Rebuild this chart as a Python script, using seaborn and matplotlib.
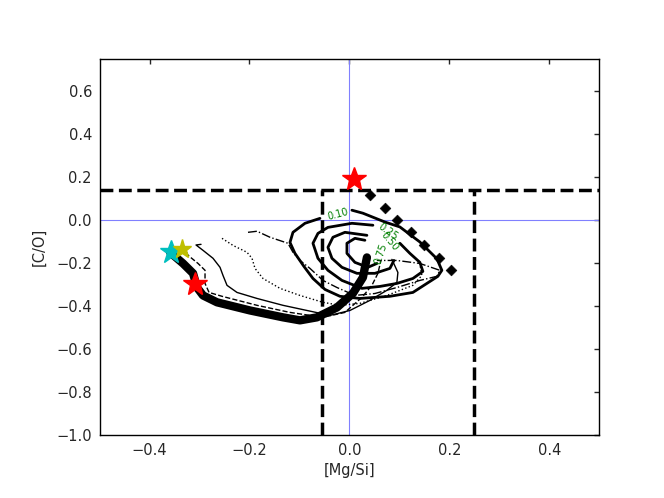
import matplotlib
matplotlib.use("Agg")
import matplotlib.pyplot as plt
import seaborn as sns
import pandas as pd

# contour levels (density of the sample)
c10_x = [0.005, 0.027, 0.071, 0.101, 0.141, 0.175, 0.185, 0.177, 0.155, 0.127, 0.081, 0.021,
         -0.019, -0.049, -0.073, -0.091, -0.109, -0.119, -0.113, -0.089, -0.059]
c10_y = [0.047, 0.033, -0.008, -0.031, -0.101, -0.179, -0.233, -0.261, -0.294, -0.336, -0.354, -0.364,
         -0.354, -0.322, -0.271, -0.215, -0.154, -0.103, -0.056, -0.014, 0.009]
c25_x = [0.101, 0.121, 0.141, 0.147, 0.127, 0.095, 0.061, 0.025, -0.015, -0.043, -0.063, -0.073,
         -0.063, -0.043, 0.005, 0.047]
c25_y = [-0.107, -0.154, -0.196, -0.238, -0.271, -0.294, -0.308, -0.317, -0.280, -0.233, -0.177, -0.107,
         -0.061, -0.033, -0.014, -0.023]
c50_x = [0.035, -0.009, -0.033, -0.043, -0.035, -0.015, 0.015, 0.051, 0.081, 0.089]
c50_y = [-0.070, -0.056, -0.079, -0.126, -0.177, -0.219, -0.247, -0.247, -0.224, -0.187]
c75_x = [0.031, 0.011, -0.005, -0.005, 0.011, 0.037, 0.055]
c75_y = [-0.093, -0.084, -0.107, -0.154, -0.196, -0.219, -0.201]
level_labels = ["0.10", "0.25", "0.50", "0.75"]
label_x = [-0.023, 0.078, 0.080, 0.062]
label_y = [0.028, -0.055, -0.098, -0.155]
label_rot = [15, -35, -50, 72]

# model tracks
thick_x = [-0.359, -0.333, -0.313, -0.305, -0.293, -0.265, -0.199, -0.133, -0.099, -0.065, -0.025,
           0.007, 0.027, 0.035]
thick_y = [-0.149, -0.201, -0.247, -0.313, -0.350, -0.382, -0.420, -0.452, -0.466, -0.452, -0.406,
           -0.340, -0.266, -0.173]
solid_x = [-0.297, -0.307, -0.293, -0.273, -0.259, -0.253, -0.245, -0.225, -0.185, -0.133, -0.085,
           -0.039, 0.001, 0.041, 0.075, 0.095, 0.097, 0.085]
solid_y = [-0.112, -0.115, -0.140, -0.177, -0.219, -0.257, -0.303, -0.336, -0.364, -0.396, -0.420,
           -0.443, -0.420, -0.373, -0.326, -0.289, -0.243, -0.182]
dashed_x = [-0.333, -0.323, -0.303, -0.289, -0.289, -0.281, -0.255, -0.185, -0.119, -0.053, -0.009,
            0.025, 0.045, 0.057, 0.063]
dashed_y = [-0.117, -0.163, -0.201, -0.233, -0.294, -0.336, -0.354, -0.396, -0.429, -0.452, -0.429,
            -0.359, -0.303, -0.247, -0.187]
dotted_x = [-0.255, -0.233, -0.205, -0.195, -0.189, -0.173, -0.139, -0.099, -0.053, -0.019, 0.021,
            0.075, 0.127, 0.145, 0.141]
dotted_y = [-0.084, -0.117, -0.149, -0.177, -0.224, -0.271, -0.317, -0.350, -0.382, -0.396, -0.387,
            -0.350, -0.303, -0.257, -0.205]
dashdot_x = [-0.203, -0.185, -0.159, -0.123, -0.113, -0.099, -0.079, -0.053, -0.025, 0.011, 0.051,
             0.095, 0.141, 0.175, 0.181, 0.141, 0.095, 0.055]
dashdot_y = [-0.056, -0.051, -0.079, -0.107, -0.149, -0.187, -0.224, -0.280, -0.313, -0.350, -0.341,
             -0.313, -0.280, -0.261, -0.233, -0.201, -0.187, -0.187]

# diamonds
diam_x = [0.041, 0.071, 0.096, 0.124, 0.150, 0.179, 0.203]
diam_y = [0.117, 0.057, 0.0, -0.056, -0.113, -0.174, -0.233]

# stars
star_x = [0.010, -0.309, -0.357, -0.335]
star_y = [0.190, -0.295, -0.148, -0.132]
star_col = ["red", "red", "c", "y"]
star_size = [18, 18, 17, 14]

# cut lines
co_cut = 0.14
mgsi_cuts = [-0.054, 0.25]

sns.set_style("white")
plt.rcParams["font.family"] = ["DejaVu Sans"]

fig, ax = plt.subplots(figsize=(6.64, 4.98), dpi=100)
fig.subplots_adjust(left=0.15, right=0.9025, top=0.881, bottom=0.1265)

ax.axhline(0, color="#8080ff", lw=0.8, zorder=1)
ax.axvline(0, color="#8080ff", lw=0.8, zorder=1)

def track(xs, ys, **kw):
    df = pd.DataFrame({"x": xs, "y": ys})
    sns.lineplot(data=df, x="x", y="y", sort=False, estimator=None, ax=ax, color="black", **kw)

track(c10_x, c10_y, lw=2)
track(c25_x, c25_y, lw=2)
track(c50_x, c50_y, lw=2)
track(c75_x, c75_y, lw=2)
for t, lx, ly, r in zip(level_labels, label_x, label_y, label_rot):
    ax.text(lx, ly, t, color="green", fontsize=7, rotation=r, ha="center", va="center")

track(solid_x, solid_y, lw=1)
track(dashed_x, dashed_y, lw=1, linestyle="--")
track(dotted_x, dotted_y, lw=1, linestyle=":")
track(dashdot_x, dashdot_y, lw=1, linestyle="-.")
track(thick_x, thick_y, lw=6)

ax.axhline(co_cut, color="black", lw=2.5, ls="--")
ax.vlines(mgsi_cuts, -1.0, co_cut, color="black", lw=2.5, ls="--")

sns.scatterplot(x=diam_x, y=diam_y, marker="D", color="black", s=30, edgecolor="black", ax=ax, zorder=5)
for sx, sy, c, ms in zip(star_x, star_y, star_col, star_size):
    ax.plot(sx, sy, marker="*", color=c, ms=ms, zorder=6)

ax.set_xlim(-0.5, 0.5)
ax.set_ylim(-1.0, 0.75)
ax.set_xticks([-0.4, -0.2, 0.0, 0.2, 0.4])
ax.set_yticks([-1.0, -0.8, -0.6, -0.4, -0.2, 0.0, 0.2, 0.4, 0.6])
ax.set_xlabel("[Mg/Si]", fontsize=10.5, labelpad=4)
ax.set_ylabel("[C/O]", fontsize=10.5, labelpad=7)
ax.tick_params(direction="in", top=True, right=True, length=3.5, width=1, labelsize=10.5, pad=5.5)
for s in ax.spines.values():
    s.set_color("black")
    s.set_linewidth(1)

fig.savefig("out.png", dpi=100)
